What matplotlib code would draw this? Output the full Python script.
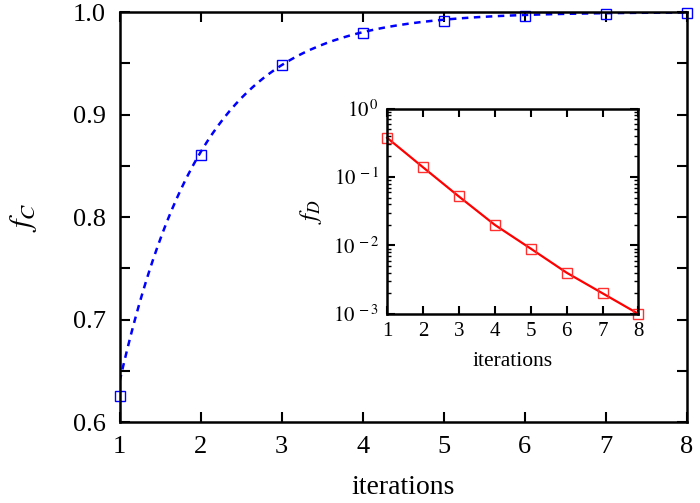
import numpy as np
import matplotlib
matplotlib.use("Agg")
import matplotlib.pyplot as plt
from matplotlib.ticker import MultipleLocator, LogLocator, NullFormatter

plt.rcParams['font.family'] = ['Liberation Serif', 'DejaVu Serif']
plt.rcParams['mathtext.fontset'] = 'stix'

iterations = [1, 2, 3, 4, 5, 6, 7, 8]
f_C = [0.625, 0.861, 0.948, 0.980, 0.991, 0.996, 0.998, 0.999]
f_D = [0.375, 0.139, 0.052, 0.020, 0.009, 0.004, 0.002, 0.001]
# fitted model f_C = 1 - a*exp(-b*x)
fit_a = 0.95
fit_b = 0.97

fig = plt.figure(figsize=(7.0, 5.03), dpi=100)
ax = fig.add_axes([0.171, 0.161, 0.81, 0.815])

xs = np.linspace(1, 8, 300)
ax.plot(xs, 1 - fit_a * np.exp(-fit_b * xs), color='#0000ff', lw=1.8,
        ls=(0, (2.6, 2.2)))
ax.plot(iterations, f_C, ls='none', marker='s', mfc='none', mec='#0000ff',
        ms=7, mew=1.0, clip_on=False)
ax.set_xlim(1, 8)
ax.set_ylim(0.6, 1.0)
ax.xaxis.set_major_locator(MultipleLocator(1))
ax.yaxis.set_major_locator(MultipleLocator(0.1))
ax.yaxis.set_minor_locator(MultipleLocator(0.05))
ax.yaxis.set_major_formatter(plt.FormatStrFormatter('%.1f'))
ax.tick_params(which='both', direction='in', top=True, right=True,
               length=7, width=1.5, labelsize=19, pad=10)
for s in ax.spines.values():
    s.set_linewidth(1.8)
ax.set_xlabel('iterations', fontsize=20, labelpad=12)
ax.set_ylabel('$f_C$', fontsize=22, labelpad=24, rotation=90)

ins = fig.add_axes([0.553, 0.376, 0.359, 0.408])
ins.plot(iterations, f_D, color='#ff0000', lw=1.6, marker='s', mfc='none',
         mec='#ff3030', ms=7, mew=1.0, clip_on=False)
ins.set_yscale('log')
ins.set_xlim(1, 8)
ins.set_ylim(1e-3, 1)
ins.xaxis.set_major_locator(MultipleLocator(1))
ins.yaxis.set_major_locator(LogLocator(base=10, numticks=10))
ins.yaxis.set_minor_locator(LogLocator(base=10, subs=np.arange(2, 10), numticks=10))
ins.yaxis.set_minor_formatter(NullFormatter())
ins.set_yticks([1e-3, 1e-2, 1e-1, 1e0])
ins.set_yticklabels(['$10^{\\,-3}$', '$10^{\\,-2}$', '$10^{\\,-1}$', '$10^{\\,0}$'])
ins.tick_params(which='major', direction='in', top=True, right=True,
                length=6, width=1.5, labelsize=15, pad=6)
ins.tick_params(which='minor', direction='in', right=True, length=3, width=1.0)
for s in ins.spines.values():
    s.set_linewidth(1.8)
ins.set_xlabel('iterations', fontsize=15.5, labelpad=8)
ins.set_ylabel('$f_D$', fontsize=18, labelpad=6)

fig.savefig('out.png', dpi=100)
